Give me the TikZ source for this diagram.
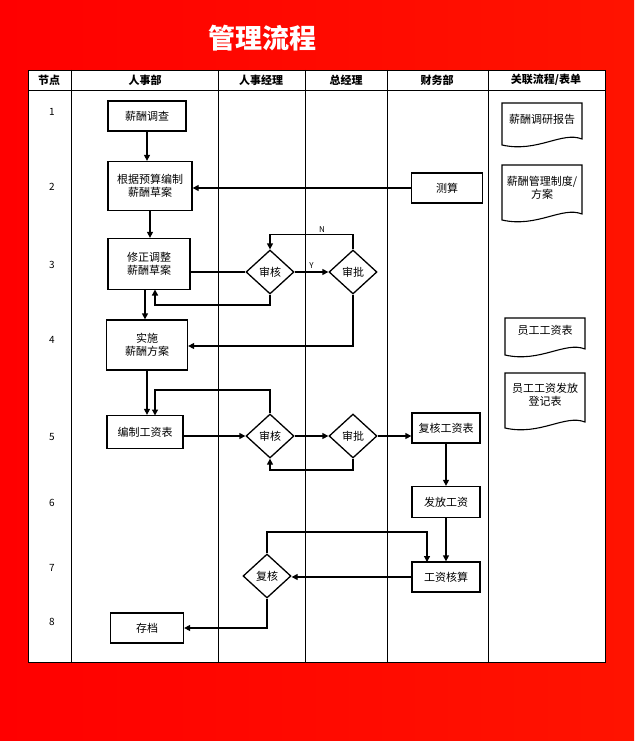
\documentclass[tikz,border=0pt]{standalone}
\usepackage{fontspec}
\setmainfont{Noto Sans CJK SC}
\usetikzlibrary{arrows.meta,shapes.geometric}
\begin{document}
\begin{tikzpicture}[x=1pt,y=-1pt,
  box/.style={draw,line width=1.3pt,fill=white,inner sep=1pt,align=center,font=\fontsize{11}{13}\selectfont},
  dia/.style={draw,diamond,aspect=1.1,line width=1.3pt,fill=white,inner sep=1pt,minimum width=48pt,minimum height=44pt,font=\fontsize{11}{13}\selectfont},
  ln/.style={line width=1.3pt},
  ar/.style={line width=1.3pt,-{Triangle[length=6pt,width=6pt]}},
  hd/.style={font=\fontsize{11}{13}\selectfont\bfseries},
  num/.style={font=\fontsize{10}{12}\selectfont},
  dt/.style={font=\fontsize{11}{13}\selectfont,align=center},
  doc/.style={line width=1.1pt}]
\useasboundingbox (0,0) rectangle (634,741);
\shade[left color=red, right color=red!85!orange] (0,0) rectangle (634,741);
\node[text=white,font=\fontsize{27}{30}\selectfont\bfseries] (title) at (262,38) {管理流程};
% table
\fill[white] (28,70) rectangle (605,662);
\draw[line width=0.7pt] (28,70) rectangle (605,662);
\draw[line width=0.7pt] (28,90) -- (605,90);
\foreach \x in {71,218,305,387,488} \draw[line width=0.7pt] (\x,70) -- (\x,662);
\node[hd] (h0) at (49,80) {节点};
\node[hd] (h1) at (145,80) {人事部};
\node[hd] (h2) at (261,80) {人事经理};
\node[hd] (h3) at (346,80) {总经理};
\node[hd] (h4) at (437,80) {财务部};
\node[hd] (h5) at (546,80) {关联流程/表单};
\foreach \n/\y in {1/112,2/187,3/265,4/340,5/437,6/503,7/568,8/622} \node[num] (r\n) at (52,\y) {\n};
% nodes
\node[box,minimum width=78pt,minimum height=30pt] (A) at (147,116) {薪酬调查};
\node[box,minimum width=84pt,minimum height=49pt] (B) at (150,186) {根据预算编制\\薪酬草案};
\node[box,minimum width=82pt,minimum height=51pt] (C) at (149,264) {修正调整\\薪酬草案};
\node[box,minimum width=81pt,minimum height=50pt] (D) at (147,345) {实施\\薪酬方案};
\node[box,minimum width=76pt,minimum height=33pt] (E) at (145,432) {编制工资表};
\node[box,minimum width=71pt,minimum height=30pt] (T) at (447,188) {测算};
\node[dia] (S1) at (270,272) {审核};
\node[dia] (P1) at (353,272) {审批};
\node[dia] (S2) at (270,436) {审核};
\node[dia] (P2) at (353,436) {审批};
\node[box,minimum width=68pt,minimum height=30pt] (F) at (446,428) {复核工资表};
\node[box,minimum width=68pt,minimum height=31pt] (G) at (446,502) {发放工资};
\node[box,minimum width=68pt,minimum height=30pt] (H) at (446,577) {工资核算};
\node[dia] (K) at (267,576) {复核};
\node[box,minimum width=73pt,minimum height=30pt] (Z) at (147,628) {存档};
% documents
\foreach \nm/\xa/\ya/\xb/\yb in {d1/502/103/582/145, d2/502/165/582/220, d3/505/318/585/355, d4/505/373/585/428}{
  \draw[doc,fill=white] (\xa,\ya) -- (\xb,\ya) -- (\xb,\yb-6) .. controls (\xb-20,\yb-14) and (\xa+35,\yb+8) .. (\xa,\yb) -- cycle;
}
\node[dt] (t1) at (542,119) {薪酬调研报告};
\node[dt] (t2) at (542,188) {薪酬管理制度/\\方案};
\node[dt] (t3) at (545,330) {员工工资表};
\node[dt] (t4) at (545,395) {员工工资发放\\登记表};
% connectors
\draw[ar] (A.south) -- (A.south |- B.north);
\draw[ar] (T.west) -- (B.east |- T.west);
\draw[ar] (B.south) -- (B.south |- C.north);
\draw[ln] (C.east |- S1) -- (S1.west);
\draw[ar] (S1) -- node[above,font=\fontsize{8}{9}\selectfont]{Y} (P1);
\draw[ar] (P1.north) -- ++(0,-15) -| (S1.north);
\node[font=\fontsize{8}{9}\selectfont] (N) at (322,230) {N};
\draw[ar] (S1.south) |- (155,305) -- (155,289.5);
\draw[ar] (145,289.5) -- (D.north -| 145,0);
\draw[ar] (P1.south) |- (D.east |- 0,346);
\draw[ar] (D.south) -- (E.north -| D.south);
\draw[ar] (S2.north) |- (155,390) -- (155,415.5);
\draw[ar] (E.east |- S2) -- (S2.west);
\draw[ar] (S2) -- (P2);
\draw[ar] (P2.south) |- (270,470) -- (S2.south);
\draw[ar] (P2.east) -- (F.west |- P2);
\draw[ar] (F) -- (G);
\draw[ar] (G) -- (H);
\draw[ar] (K.north) |- (427,532) -- (427,562);
\draw[ar] (H.west) -- (K.east |- H.west);
\draw[ar] (K.south) |- (Z.east);
\end{tikzpicture}
\end{document}
